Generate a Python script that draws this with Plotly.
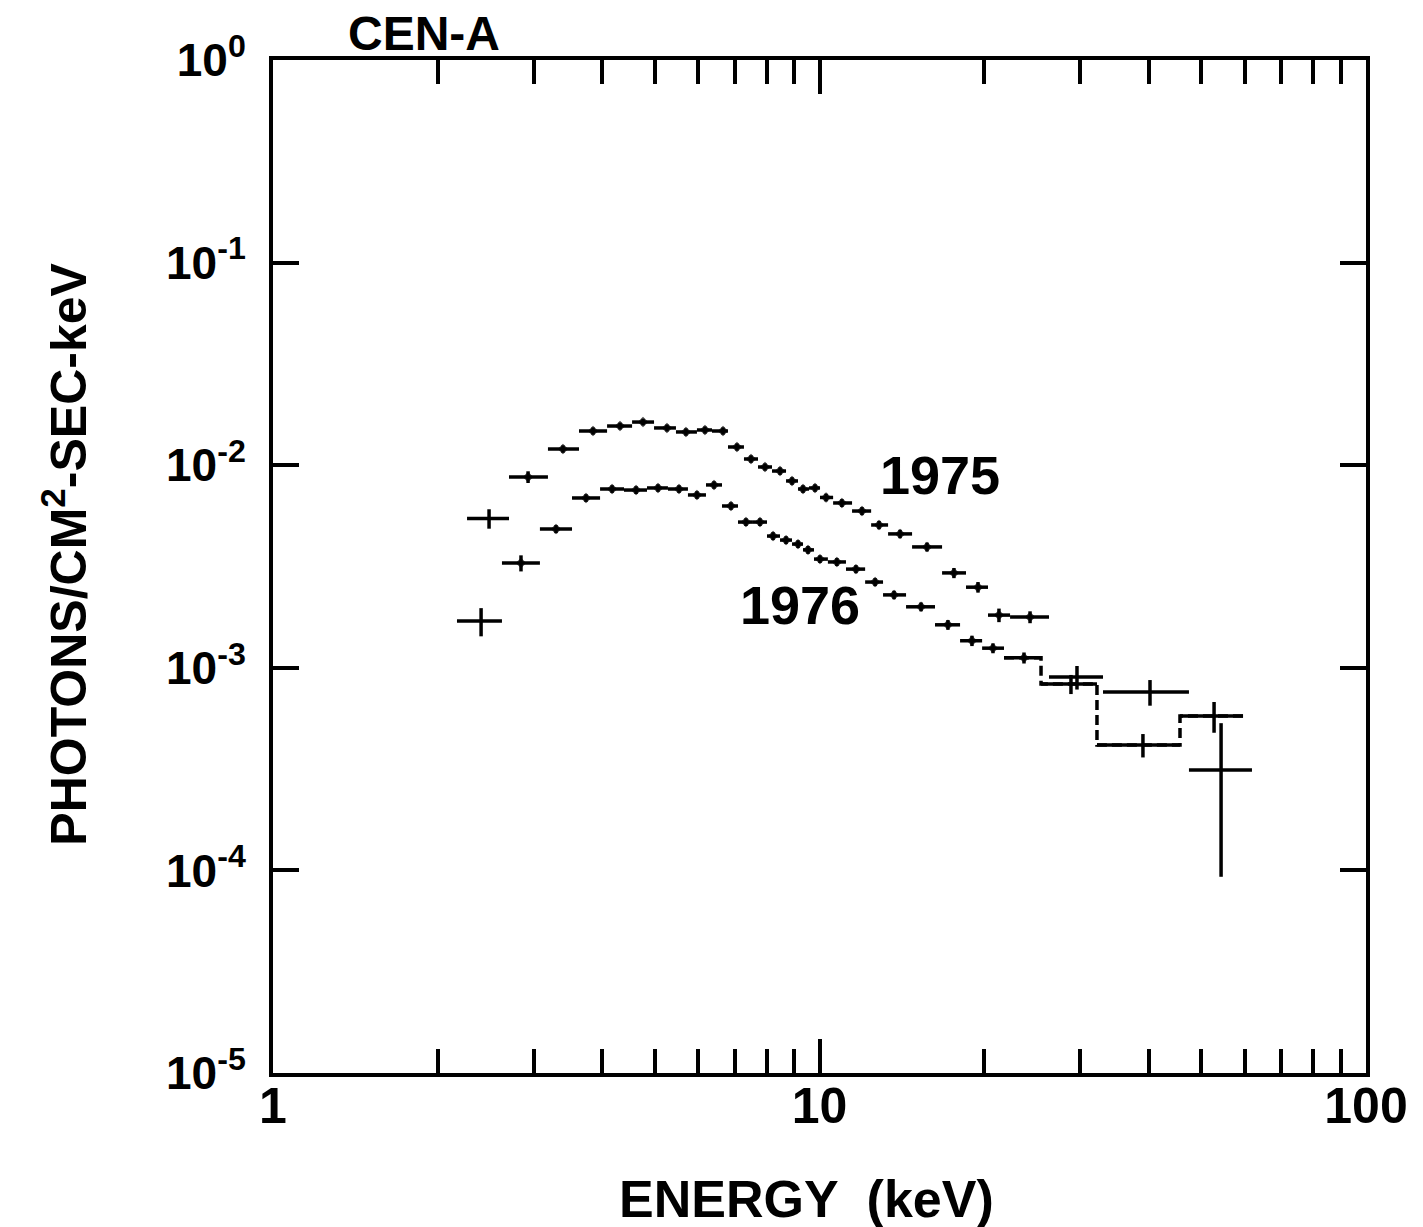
import plotly.graph_objects as go

# ---------------- data ----------------
# 1975 observation
E75 = [2.485, 2.929, 3.393, 3.851, 4.315, 4.754, 5.259, 5.697, 6.172, 6.659,
       7.063, 7.493, 7.948, 8.468, 8.907, 9.329, 9.813, 10.28, 10.99, 11.96,
       12.85, 14.04, 15.73, 17.62, 19.50, 21.30, 24.28, 29.59, 40.25, 54.30]
edges75 = [2.265, 2.703, 3.185, 3.630, 4.086, 4.540, 4.980, 5.462, 5.967, 6.357,
           6.800, 7.274, 7.718, 8.187, 8.685, 9.135, 9.568, 10.02, 10.59, 11.47,
           12.43, 13.35, 14.77, 16.76, 18.54, 20.34, 22.32, 26.30, 33.02, 47.43, 61.85]
F75 = [0.00546, 0.00875, 0.01202, 0.01475, 0.01561, 0.01633, 0.01527, 0.01459, 0.01492, 0.01475,
       0.01230, 0.01073, 0.00980, 0.00936, 0.00836, 0.00763, 0.00772, 0.00693, 0.00651, 0.00594,
       0.00507, 0.00458, 0.00395, 0.00294, 0.00250, 0.00182, 0.00178, 0.000901, 0.000760, 0.000313]
dF75 = [0.00060, 0.00058, 0.00050, 0.00060, 0.00060, 0.00060, 0.00060, 0.00060, 0.00060, 0.00060,
        0.00050, 0.00045, 0.00040, 0.00040, 0.00036, 0.00033, 0.00033, 0.00030, 0.00029, 0.00027,
        0.00024, 0.00022, 0.00020, 0.00017, 0.00015, 0.00014, 0.00012, 0.00012, 0.00011, 0.00022]

# 1976 observation
E76 = [2.403, 2.843, 3.295, 3.739, 4.173, 4.617, 5.064, 5.532, 5.967, 6.412,
       6.887, 7.336, 7.782, 8.222, 8.685, 9.135, 9.528, 10.02, 10.76, 11.66,
       12.64, 13.69, 15.34, 17.18, 19.01, 20.77, 23.67, 28.85, 39.07, 52.72]
edges76 = [2.171, 2.624, 3.079, 3.525, 3.967, 4.388, 4.835, 5.281, 5.745, 6.198,
           6.631, 7.093, 7.555, 8.016, 8.468, 8.907, 9.329, 9.770, 10.36, 11.18,
           12.12, 13.07, 14.40, 16.27, 18.08, 19.84, 21.76, 25.43, 32.19, 45.67, 59.57]
F76 = [0.00170, 0.00329, 0.00484, 0.00689, 0.00763, 0.00754, 0.00772, 0.00763, 0.00713, 0.00799,
       0.00629, 0.00524, 0.00524, 0.00447, 0.00427, 0.00408, 0.00382, 0.00344, 0.00333, 0.00307,
       0.00265, 0.00229, 0.00200, 0.00163, 0.00136, 0.00125, 0.00112, 0.000832, 0.000416, 0.000578]
dF76 = [0.00027, 0.00030, 0.00022, 0.00030, 0.00033, 0.00033, 0.00033, 0.00033, 0.00031, 0.00034,
        0.00027, 0.00023, 0.00023, 0.00020, 0.00019, 0.00018, 0.00017, 0.00015, 0.00015, 0.00014,
        0.00012, 0.00011, 0.00010, 0.00009, 0.00008, 0.00007, 0.00007, 0.00009, 0.000055, 0.00010]

x_tickvals = [1, 10, 100]
x_ticktext = ["1", "10", "100"]
y_tickvals = [1e-5, 1e-4, 1e-3, 1e-2, 1e-1, 1]
y_ticktext = ["10<sup>-5</sup>", "10<sup>-4</sup>", "10<sup>-3</sup>",
              "10<sup>-2</sup>", "10<sup>-1</sup>", "10<sup>0</sup>"]

# ---------------- figure ----------------
FONT = "Liberation Sans"
fig = go.Figure()


def add_series(E, edges, F, dF):
    lo = edges[:-1]
    hi = edges[1:]
    sizes = [8 if d / f < 0.095 else 0 for d, f in zip(dF, F)]
    fig.add_trace(go.Scatter(
        x=E, y=F, mode="markers",
        marker=dict(symbol="diamond", size=sizes, color="black", line=dict(width=0)),
        error_x=dict(type="data", symmetric=False,
                     array=[h - e for h, e in zip(hi, E)],
                     arrayminus=[e - l for e, l in zip(E, lo)],
                     thickness=3.5, width=0, color="black"),
        error_y=dict(type="data", array=dF, thickness=3.5, width=0, color="black"),
        showlegend=False, hoverinfo="x+y"))


add_series(E75, edges75, F75, dF75)
add_series(E76, edges76, F76, dF76)

# dashed step connecting the last 1976 bins
fig.add_trace(go.Scatter(
    x=edges76[-5:], y=F76[-4:] + [F76[-1]], mode="lines",
    line=dict(shape="hv", color="black", width=3.5, dash="10px,5px"),
    showlegend=False, hoverinfo="skip"))

minor_x = [m * d for d in (1, 10) for m in range(2, 10)]

axis_common = dict(showline=True, linewidth=4, linecolor="black", mirror="ticks",
                   ticks="inside", tickwidth=4, tickcolor="black", showgrid=False,
                   zeroline=False)

fig.update_xaxes(type="log", range=[0, 2], tickmode="array", tickvals=x_tickvals,
                 ticktext=x_ticktext, ticklen=34, ticklabelstandoff=-14,
                 tickfont=dict(family=FONT, size=50, color="black", weight="bold"),
                 minor=dict(ticks="inside", ticklen=24, tickwidth=4, tickcolor="black",
                            tickmode="array", tickvals=minor_x, showgrid=False),
                 **axis_common)
fig.update_yaxes(type="log", range=[-5, 0], tickmode="array", tickvals=y_tickvals,
                 ticktext=y_ticktext, ticklen=26, ticklabelstandoff=14,
                 tickfont=dict(family=FONT, size=46, color="black", weight="bold"),
                 **axis_common)

ann_font = dict(family=FONT, color="black", weight="bold")
fig.add_annotation(text="CEN-A", xref="paper", yref="paper", x=0.138, y=1.026,
                   xanchor="center", yanchor="middle",
                   showarrow=False, font=dict(size=48, **ann_font))
fig.add_annotation(text="1975", xref="paper", yref="paper", x=0.610, y=0.590,
                   xanchor="center", yanchor="middle",
                   showarrow=False, font=dict(size=54, **ann_font))
fig.add_annotation(text="1976", xref="paper", yref="paper", x=0.482, y=0.462,
                   xanchor="center", yanchor="middle",
                   showarrow=False, font=dict(size=54, **ann_font))
fig.add_annotation(text="ENERGY  (keV)", xref="paper", yref="paper", x=0.488, y=-0.124,
                   xanchor="center", yanchor="middle",
                   showarrow=False, font=dict(size=52, **ann_font))
fig.add_annotation(text="PHOTONS/CM<sup>2</sup>-SEC-keV", xref="paper", yref="paper",
                   x=-0.190, y=0.512, xanchor="center", yanchor="middle",
                   textangle=-90, showarrow=False, font=dict(size=50, **ann_font))

# the page body adds an 8px offset, so the figure is 8px smaller and margins shifted
fig.update_layout(width=1415, height=1219, paper_bgcolor="white", plot_bgcolor="white",
                  margin=dict(l=265, r=57, t=52, b=154))

fig.write_html("out.html")
